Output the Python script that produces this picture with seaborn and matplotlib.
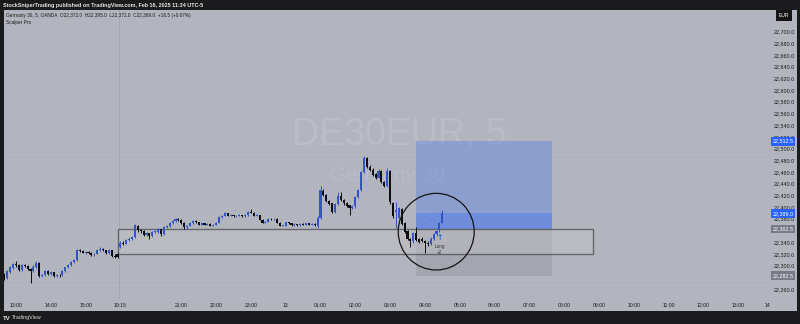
import numpy as np
import pandas as pd
import matplotlib
matplotlib.use("Agg")
import matplotlib.pyplot as plt
import seaborn as sns
from matplotlib.patches import Rectangle, Ellipse
from matplotlib.transforms import blended_transform_factory

# ---------------- data (Germany 30, 5 min, OANDA) ----------------
opens = [22284, 22279, 22289, 22296, 22302, 22300, 22292, 22301, 22299, 22294,
         22290, 22297, 22305, 22282, 22284, 22290, 22286, 22288, 22282, 22284,
         22283, 22291, 22297, 22301, 22306, 22309, 22326, 22325, 22322, 22323,
         22321, 22319, 22320, 22327, 22329, 22326, 22321, 22326, 22317, 22319,
         22332, 22339, 22337, 22343, 22346, 22349, 22368, 22360, 22359, 22352,
         22355, 22350, 22357, 22358, 22362, 22353, 22366, 22367, 22372, 22376,
         22380, 22378, 22373, 22365, 22368, 22373, 22376, 22374, 22370, 22372,
         22370, 22371, 22368, 22370, 22373, 22383, 22385, 22389, 22385, 22386,
         22384,
         22385, 22386, 22384, 22386, 22391, 22390, 22385, 22386, 22378, 22373,
         22375, 22380, 22379, 22380, 22373, 22368, 22368, 22374, 22372, 22369,
         22370, 22369, 22371, 22370, 22372, 22370, 22371, 22368, 22382, 22428,
         22421, 22411, 22406, 22392, 22405, 22418, 22412, 22406, 22403, 22398,
         22401, 22417, 22429, 22460, 22483, 22469, 22464, 22456, 22450, 22462,
         22443, 22436, 22462, 22407, 22392, 22382, 22397, 22372, 22359, 22345,
         22341, 22356, 22345, 22346, 22342, 22339, 22337, 22346, 22353, 22360,
         22372]
closes = [22278, 22290, 22297, 22302, 22300, 22292, 22301, 22299, 22294, 22290,
          22298, 22305, 22282, 22283, 22290, 22285, 22288, 22282, 22284, 22283,
          22291, 22297, 22301, 22306, 22309, 22326, 22325, 22322, 22323, 22321,
          22318, 22320, 22327, 22329, 22326, 22321, 22326, 22317, 22315, 22315,
          22339, 22337, 22343, 22346, 22349, 22369, 22360, 22359, 22352, 22355,
          22350, 22357, 22358, 22362, 22353, 22366, 22367, 22372, 22376, 22380,
          22378, 22373, 22365, 22368, 22373, 22376, 22374, 22370, 22372, 22370,
          22371, 22368, 22370, 22373, 22383, 22385, 22389, 22385, 22386, 22384,
          22385,
          22386, 22384, 22386, 22391, 22390, 22385, 22386, 22378, 22373, 22375,
          22380, 22379, 22380, 22373, 22368, 22369, 22374, 22372, 22369, 22370,
          22369, 22371, 22370, 22372, 22370, 22371, 22369, 22382, 22429, 22421,
          22411, 22405, 22391, 22405, 22418, 22412, 22406, 22402, 22398, 22401,
          22417, 22429, 22460, 22483, 22468, 22463, 22455, 22450, 22462, 22443,
          22436, 22462, 22408, 22384, 22395, 22398, 22371, 22357, 22345, 22341,
          22355, 22344, 22340, 22342, 22338, 22336, 22346, 22353, 22359, 22372,
          22389]
highs = [22287, 22292, 22299, 22304, 22307, 22302, 22303, 22303, 22300, 22296,
         22300, 22307, 22306, 22285, 22293, 22292, 22290, 22289, 22286, 22286,
         22292, 22298, 22303, 22307, 22311, 22328, 22328, 22327, 22325, 22325,
         22323, 22322, 22329, 22331, 22330, 22327, 22328, 22327, 22320, 22321,
         22341, 22341, 22345, 22348, 22351, 22371, 22370, 22362, 22360, 22357,
         22356, 22359, 22360, 22364, 22363, 22368, 22369, 22374, 22378, 22382,
         22382, 22379, 22374, 22370, 22375, 22377, 22377, 22375, 22373, 22373,
         22373, 22372, 22371, 22375, 22385, 22387, 22391, 22390, 22388, 22387,
         22386,
         22388, 22387, 22388, 22393, 22397, 22391, 22388, 22387, 22379, 22376,
         22381, 22381, 22382, 22381, 22374, 22370, 22375, 22375, 22373, 22372,
         22371, 22372, 22372, 22373, 22373, 22372, 22372, 22384, 22436, 22430,
         22422, 22412, 22407, 22407, 22426, 22426, 22414, 22408, 22404, 22403,
         22419, 22431, 22462, 22487, 22485, 22472, 22467, 22458, 22465, 22463,
         22445, 22466, 22463, 22409, 22408, 22400, 22398, 22374, 22361, 22347,
         22357, 22366, 22347, 22348, 22344, 22341, 22348, 22355, 22361, 22374,
         22395]
lows = [22275, 22277, 22287, 22294, 22298, 22290, 22290, 22297, 22292, 22270,
        22288, 22295, 22280, 22280, 22282, 22283, 22284, 22280, 22280, 22281,
        22282, 22289, 22295, 22299, 22304, 22308, 22323, 22321, 22320, 22319,
        22317, 22317, 22319, 22325, 22324, 22320, 22320, 22315, 22313, 22313,
        22330, 22335, 22336, 22341, 22344, 22347, 22358, 22356, 22350, 22350,
        22346, 22349, 22355, 22356, 22351, 22352, 22364, 22366, 22371, 22375,
        22376, 22371, 22363, 22363, 22367, 22371, 22373, 22369, 22369, 22369,
        22369, 22367, 22367, 22369, 22372, 22382, 22384, 22384, 22384, 22383,
        22383,
        22384, 22383, 22383, 22385, 22389, 22384, 22384, 22377, 22372, 22372,
        22374, 22377, 22378, 22372, 22367, 22367, 22367, 22371, 22368, 22368,
        22368, 22368, 22369, 22369, 22369, 22369, 22367, 22364, 22380, 22419,
        22409, 22403, 22389, 22390, 22404, 22410, 22404, 22400, 22386, 22396,
        22399, 22415, 22427, 22458, 22466, 22461, 22453, 22448, 22449, 22441,
        22434, 22434, 22405, 22382, 22364, 22380, 22369, 22355, 22343, 22332,
        22339, 22342, 22338, 22340, 22321, 22334, 22335, 22344, 22351, 22358,
        22372]

time_labels = ["13:00", "14:00", "15:00", "19:15", "21:00", "22:00", "23:00", "13",
               "01:00", "02:00", "03:00", "04:00", "05:00", "06:00", "07:00", "08:00",
               "09:00", "10:00", "11:00", "12:00", "13:00", "14"]
time_ticks = [4, 16, 28, 40, 61, 73, 85, 97, 109, 121, 133, 145, 157, 169, 181,
              193, 205, 217, 229, 241, 253, 263.1]
price_ticks = [p for p in range(22260, 22701, 20) if p not in (22280, 22360)]

zone_top, zone_bottom = 22362.5, 22320.0
entry_price, target_price, stop_price, last_price = 22362.5, 22512.5, 22282.5, 22389.0
session_break = 39.5
guide_levels = [22485, 22271]

# ---------------- style ----------------
sns.set_theme(style="white")
plt.rcParams['font.family'] = ['Liberation Sans', 'DejaVu Sans']

BG = '#b2b5bd'
BULL = '#3353c8'
BEAR = '#0e0e10'
DARK = '#1b1b1d'

W, H = 800, 324
fig = plt.figure(figsize=(W / 100, H / 100), dpi=100)
fig.patch.set_facecolor(DARK)
fig.patches.append(Rectangle((4 / W, (H - 311) / H), 793 / W, 301 / H,
                             transform=fig.transFigure, facecolor=BG,
                             edgecolor='none', zorder=-10))

ax = fig.add_axes([4 / W, (H - 298) / H, 764 / W, 288 / H])
ax.set_zorder(1)
ax.set_facecolor(BG)
for s in ax.spines.values():
    s.set_visible(False)

df = pd.DataFrame({'open': opens, 'high': highs, 'low': lows, 'close': closes})
df['bar'] = np.arange(len(df))
df['up'] = df['close'] >= df['open']
colors = np.where(df['up'], BULL, BEAR)
body_h = (df['close'] - df['open']).abs().clip(lower=1.2)
body_b = df[['open', 'close']].min(axis=1)

# position tool (long)
x0, x1 = 141.9, 188.8
ax.add_patch(Rectangle((x0, entry_price), x1 - x0, target_price - entry_price,
                       facecolor='#2962ff', alpha=0.27, lw=0, zorder=1))
ax.add_patch(Rectangle((x0, entry_price), x1 - x0, last_price - entry_price,
                       facecolor='#2962ff', alpha=0.28, lw=0, zorder=1.1))
ax.add_patch(Rectangle((x0, stop_price), x1 - x0, entry_price - stop_price,
                       facecolor='#6f727c', alpha=0.22, lw=0, zorder=1))
ax.plot([x0, len(df) - 1], [entry_price, last_price], ls=(0, (2, 2)),
        lw=0.5, color='#5b7fd6', zorder=1.2)

# support zone rectangle
ax.add_patch(Rectangle((39.0, zone_bottom), 203.0 - 39.0, zone_top - zone_bottom,
                       facecolor='#c2c1c6', alpha=0.5, edgecolor='#1a1a1a',
                       lw=1.0, zorder=1.5))

# guides
ax.axvline(session_break, color='#8e919a', lw=0.5, ls=(0, (2, 2)), zorder=0.5)
for g in guide_levels:
    ax.axhline(g, color='#a6a9b1', lw=0.5, ls=(0, (2, 2)), zorder=0.5)

# watermark
ax.text(0.518, 0.566, "DE30EUR, 5", transform=ax.transAxes, ha='center', va='center',
        fontsize=27, color='#babdc5', zorder=0.6)
ax.text(0.502, 0.427, "Germany 30", transform=ax.transAxes, ha='center', va='center',
        fontsize=15, color='#b9bcc4', zorder=0.6)

# candles
ax.vlines(df['bar'], df['low'], df['high'], colors=colors, lw=0.7, zorder=3)
ax.bar(df['bar'], body_h, bottom=body_b, width=0.72, color=colors, lw=0, zorder=4)

# circle
ax.add_patch(Ellipse((148.9, 22357.8), 26.2, 131, facecolor='none',
                     edgecolor='#151515', lw=0.9, zorder=5))

# Long signal
ax.text(150, 22347, "↑", ha='center', va='center', fontsize=5.5, color='#2f62e6',
        fontweight='bold', zorder=6, family=['DejaVu Sans'])
ax.text(150, 22332, "Long", ha='center', va='center', fontsize=3.3, color='#333', zorder=6)
ax.text(150, 22322, "+2", ha='center', va='center', fontsize=3.3, color='#333', zorder=6)

ax.set_xlim(-0.14, 263.3)
ax.set_ylim(22244.4, 22736.8)

ax.set_xticks(time_ticks)
ax.set_xticklabels(time_labels)
ax.yaxis.tick_right()
ax.set_yticks(price_ticks)
ax.set_yticklabels([f"{p:,.1f}" for p in price_ticks])
ax.tick_params(axis='x', length=0, pad=3.5, labelsize=3.7, colors='#1a1a1a')
ax.tick_params(axis='y', length=0, pad=4.0, labelsize=3.9, colors='#1a1a1a')
ax.grid(False)

# price badges
bt = blended_transform_factory(ax.transAxes, ax.transData)
for p, fc in [(target_price, '#2962ff'), (last_price, '#2962ff'),
              (entry_price, '#787b86'), (stop_price, '#787b86')]:
    ax.text(1.0 + 15 / 764, p, f"{p:,.1f}", transform=bt, ha='center', va='center',
            fontsize=3.9, color='white', clip_on=False, zorder=10,
            bbox=dict(boxstyle='square,pad=0.35', fc=fc, ec='none'))

# header, legend, currency, footer
fig.text(3 / W, 1 - 5 / H, "StockSniperTrading published on TradingView.com, Feb 16, 2025 11:34 UTC-5",
         ha='left', va='center', fontsize=3.9, color='#e6e6e6', fontweight='bold')
fig.text(6 / W, 1 - 15.7 / H,
         "Germany 30, 5, OANDA  O22,372.0  H22,395.0  L22,372.0  C22,389.0  +16.5 (+0.07%)",
         ha='left', va='center', fontsize=3.4, color='#1a1a1a', zorder=5)
fig.text(6 / W, 1 - 22.7 / H, "Scalper Pro", ha='left', va='center', fontsize=3.4,
         color='#1a1a1a', zorder=5)
fig.text(784 / W, 1 - 15.5 / H, "EUR", ha='center', va='center', fontsize=3.6, color='white',
         zorder=5, bbox=dict(boxstyle='square,pad=0.6', fc='#151515', ec='none'))
fig.text(3 / W, 1 - 318 / H, "TV", ha='left', va='center', fontsize=4.4, color='#e6e6e6',
         fontweight='bold')
fig.text(12 / W, 1 - 318 / H, "TradingView", ha='left', va='center', fontsize=3.9, color='#d8d8d8')

fig.savefig("out.png", dpi=100, facecolor=fig.get_facecolor())
